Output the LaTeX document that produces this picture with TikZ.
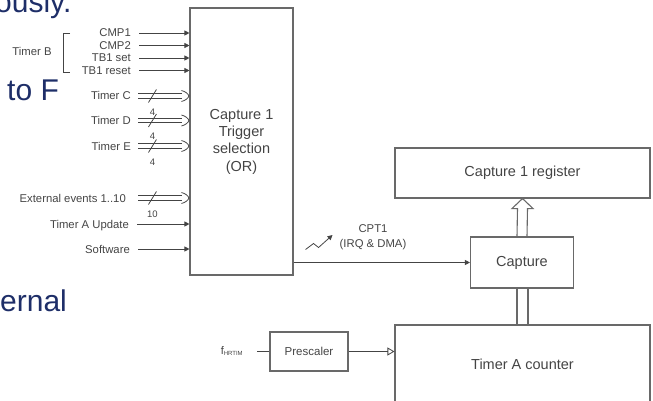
\documentclass[tikz,border=0pt]{standalone}
\usepackage{fontspec}
\setmainfont{Liberation Sans}
\usetikzlibrary{arrows.meta,calc}
\definecolor{ink}{RGB}{68,68,68}
\definecolor{edge}{RGB}{105,105,105}
\definecolor{slide}{RGB}{30,46,104}
\begin{document}
\begin{tikzpicture}[x=1pt,y=-1pt,
  box/.style={draw=edge, line width=1.1pt, inner sep=0pt, text=ink, align=center,
              font=\fontsize{14.5}{17.3}\selectfont},
  lbl/.style={anchor=east, text=ink, inner sep=0pt, text height=8pt, text depth=0pt,
              font=\fontsize{11.3}{13}\selectfont},
  small/.style={text=ink, inner sep=0pt, font=\fontsize{9.5}{11}\selectfont},
  sig/.style={draw=ink, line width=0.8pt, -{Triangle[length=5pt,width=5pt]}},
  busline/.style={draw=ink, line width=0.8pt},
  slash/.style={draw=ink, line width=0.8pt},
  pair/.style={draw=edge, line width=1.1pt},
  bg/.style={text=slide, inner sep=0pt, anchor=base west, font=\fontsize{30}{34}\selectfont}
]
\useasboundingbox (0,0) rectangle (653,401);

% background slide text
\node[bg] (bgA) at (-5,13) {ously.};
\node[bg] (bgB) at (7,101) {to F};
\node[bg] (bgC) at (0,311) {ernal};

% boxes
\node[box, minimum width=103pt, minimum height=267pt] (trig) at (241.5,141.5)
  {Capture 1\\Trigger\\selection\\(OR)};
\node[box, minimum width=255pt, minimum height=50pt] (reg) at (522.5,173) {Capture 1 register};
\node[box, minimum width=103pt, minimum height=51pt] (cap) at (522,262.5) {Capture};
\node[box, minimum width=255pt, minimum height=78pt] (cnt) at (522.5,364) {Timer A counter};
\node[box, minimum width=78pt, minimum height=39pt, font=\fontsize{11.5}{13}\selectfont] (pre) at (309,351.5) {Prescaler};

% input labels
\node[lbl] (l1) at (131,33) {CMP1};
\node[lbl] (l2) at (131,45.5) {CMP2};
\node[lbl] (l3) at (131,58) {TB1 set};
\node[lbl] (l4) at (131,70.5) {TB1 reset};
\node[lbl] (lc) at (131,96) {Timer C};
\node[lbl] (ld) at (131,120.5) {Timer D};
\node[lbl] (le) at (131,146) {Timer E};
\node[lbl] (lx) at (126,198) {External events 1..10};
\node[lbl] (lu) at (129,224) {Timer A Update};
\node[lbl] (ls) at (130,249) {Software};
\node[lbl, anchor=center] (tb) at (32,52) {Timer B};

% Timer B bracket
\draw[ink, line width=0.8pt] (70,33) -- (63,33) -- (63,72) -- (70,72);

% single inputs
\foreach \n in {l1,l2,l3,l4,lu,ls}
  \draw[sig] ($(\n.east)+(8,0)$) -- (\n.east -| trig.west);

% bus inputs (double line, hollow head)
\foreach \n/\w in {lc/4,ld/4,le/4,lx/10}{
  \coordinate (e\n) at (\n.east -| trig.west);
  \draw[busline] ($(e\n)+(-51,-2.4)$) -- ($(e\n)+(-7,-2.4)$);
  \draw[busline] ($(e\n)+(-51,2.4)$) -- ($(e\n)+(-7,2.4)$);
  \draw[busline, line join=round] ($(e\n)+(-8,-5.5)$) .. controls ($(e\n)+(-4,-4.5)$) and ($(e\n)+(-1,-2)$) .. ($(e\n)+(-0.5,0)$)
     .. controls ($(e\n)+(-1,2)$) and ($(e\n)+(-4,4.5)$) .. ($(e\n)+(-8,5.5)$);
  \draw[slash] ($(e\n)+(-41,6.5)$) -- ($(e\n)+(-33,-6.5)$);
  \node[small] at ($(e\n)+(-37,16)$) {\w};
}

% CPT1 output
\draw[sig] (trig.east |- cap.west) -- (cap.west);
\node[text=ink, inner sep=0pt, align=center, font=\fontsize{11.3}{15}\selectfont] (cpt) at (373,237.5) {CPT1\\(IRQ \& DMA)};
\draw[ink, line width=0.8pt, -{Triangle[length=5pt,width=5pt]}]
  ($(cpt.west)+(-34,12)$) -- ($(cpt.west)+(-26,6)$) -- ($(cpt.west)+(-21,10)$) -- ($(cpt.west)+(-7,-2.5)$);

% capture -> register (hollow double arrow)
\draw[pair, line join=miter] ($(cap.north)+(-5,0)$) -- ($(reg.south)+(-5,10)$) -- ($(reg.south)+(-10.5,10)$)
  -- (reg.south) -- ($(reg.south)+(10.5,10)$) -- ($(reg.south)+(5,10)$) -- ($(cap.north)+(5,0)$);

% counter -> capture (double line)
\draw[pair] ($(cnt.north)+(-5.5,0)$) -- ($(cap.south)+(-5,0)$);
\draw[pair] ($(cnt.north)+(5.5,0)$) -- ($(cap.south)+(6,0)$);

% clock path
\node[text=ink, inner sep=0pt, font=\fontsize{11}{13}\selectfont] (fh) at (232,351) {f\textsubscript{\fontsize{6}{7}\selectfont HRTIM}};
\draw[ink, line width=0.8pt] ($(pre.west)+(-12,0)$) -- (pre.west);
\draw[ink, line width=0.8pt, -{Triangle[open,length=7pt,width=8pt]}] (pre.east) -- (pre.east -| cnt.west);
\end{tikzpicture}
\end{document}
